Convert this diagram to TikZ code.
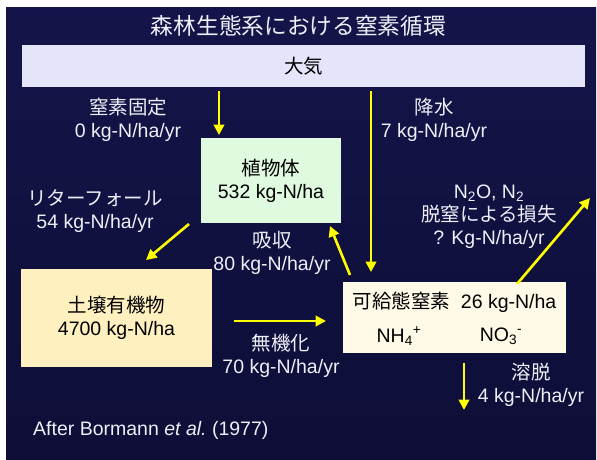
\documentclass[tikz,border=0pt]{standalone}
\usepackage{fontspec}
\setmainfont{Liberation Sans}
\newfontfamily\jp{Noto Sans CJK JP}
\usetikzlibrary{arrows.meta}
\definecolor{bgtop}{HTML}{14144A}
\definecolor{bgmid}{HTML}{23237E}
\definecolor{bgbot}{HTML}{0E0E38}
\definecolor{flowyellow}{HTML}{FFFF00}
\definecolor{lblwhite}{HTML}{EEEEF6}
\definecolor{airfill}{HTML}{E4E4FA}
\definecolor{plantfill}{HTML}{E0FAE0}
\definecolor{soilfill}{HTML}{FFF0C0}
\definecolor{availfill}{HTML}{FFF9E8}
\begin{document}
\begin{tikzpicture}[x=1pt,y=-1pt,
  flow/.style={draw=flowyellow, line width=2.6pt, -{Triangle[length=10.5pt,width=10.5pt]}},
  lbl/.style={text=lblwhite, align=center, inner sep=0pt, font=\fontsize{19.5}{23}\selectfont},
  pool/.style={draw=none, inner sep=0pt, align=center, text=black, font=\fontsize{19.5}{23}\selectfont},
  intext/.style={inner sep=0pt, text=black, font=\fontsize{19.5}{23}\selectfont}]
\useasboundingbox (0,0) rectangle (597,459);
\fill[white] (0,0) rectangle (597,459);
\shade[top color=bgtop, middle color=bgmid, bottom color=bgbot] (6,7) rectangle (596,459);

% title
\node[lbl, font=\fontsize{22.7}{27}\selectfont] (title) at (298.5,26) {\jp 森林生態系における窒素循環};

% pools
\node[pool, fill=airfill, minimum width=563pt, minimum height=42pt] (air) at (303.5,66) {\jp 大気};
\node[pool, fill=plantfill, minimum width=140pt, minimum height=85pt] (plant) at (271,180.5) {{\jp 植物体}\\532 kg-N/ha};
\node[pool, fill=soilfill, minimum width=191pt, minimum height=98pt] (soil) at (116.5,318) {{\jp 土壌有機物}\\4700 kg-N/ha};
\node[pool, fill=availfill, minimum width=223pt, minimum height=71pt] (avail) at (454.5,317.5) {};
\node[intext] (availtitle) at (454.5,302) {{\jp 可給態窒素}\ \ 26 kg-N/ha};
\node[intext] (nh4) at (399,336) {NH\textsubscript{4}\textsuperscript{+}};
\node[intext] (no3) at (501,336) {NO\textsubscript{3}\textsuperscript{-}};

% labels
\node[lbl] (fixlbl) at (128,120) {{\jp 窒素固定}\\0 kg-N/ha/yr};
\node[lbl] (rainlbl) at (434,120) {{\jp 降水}\\7 kg-N/ha/yr};
\node[lbl] (litterlbl) at (95,211.5) {{\jp リターフォール}\\54 kg-N/ha/yr};
\node[lbl] (uptakelbl) at (272,252.5) {{\jp 吸収}\\80 kg-N/ha/yr};
\node[lbl] (denitlbl) at (489,217) {N\textsubscript{2}O, N\textsubscript{2}\\{\jp 脱窒による損失}\\? Kg-N/ha/yr};
\node[lbl] (minlbl) at (281,355.5) {{\jp 無機化}\\70 kg-N/ha/yr};
\node[lbl] (leachlbl) at (531,384.5) {{\jp 溶脱}\\4 kg-N/ha/yr};
\node[lbl, anchor=west] (credit) at (33,430) {After Bormann \textit{et al.}\ (1977)};

% connector end points
\coordinate (fixA) at (219,91);
\coordinate (fixB) at (219,135);
\coordinate (rainA) at (371,91);
\coordinate (rainB) at (371,272);
\coordinate (litA) at (189,224);
\coordinate (litB) at (146,260);
\coordinate (upA) at (350,275);
\coordinate (upB) at (330,226);
\coordinate (denA) at (517,284);
\coordinate (denB) at (590,198);
\coordinate (minA) at (234,321);
\coordinate (minB) at (326,321);
\coordinate (leaA) at (464,363);
\coordinate (leaB) at (464,410);

\draw[flow] (fixA) -- (fixB);
\draw[flow] (rainA) -- (rainB);
\draw[flow] (litA) -- (litB);
\draw[flow] (upA) -- (upB);
\draw[flow] (denA) -- (denB);
\draw[flow] (minA) -- (minB);
\draw[flow] (leaA) -- (leaB);
\end{tikzpicture}
\end{document}
